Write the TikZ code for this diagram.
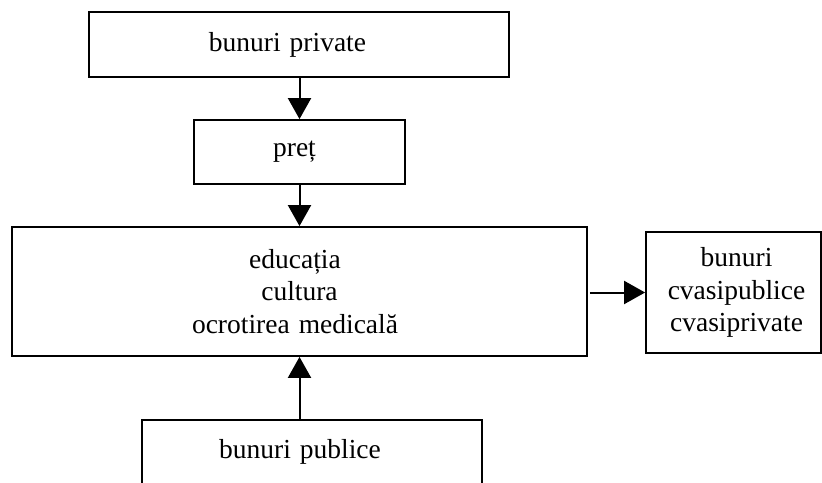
\documentclass[tikz,border=0pt]{standalone}
\usepackage{fontspec}
\setmainfont{Liberation Serif}
\usetikzlibrary{arrows.meta}
\newcommand{\myboxfont}{\fontsize{27.5}{32.5}\selectfont\spaceskip=9pt plus 2pt minus 1pt\relax}
\newcommand{\lsh}[1]{\hspace*{#1}}
\begin{document}
\begin{tikzpicture}[x=1pt,y=-1pt,
  box/.style={draw,line width=1.8pt,rectangle,inner sep=0pt,align=center,
    font=\myboxfont},
  conn/.style={line width=2pt,-{Triangle[length=21pt,width=23pt]}}]
\useasboundingbox (0,0) rectangle (822,482);
\clip (0,0) rectangle (822,482);
\node[box,minimum width=420pt,minimum height=65pt] (priv) at (299,44.5) {bunuri private\lsh{23pt}};
\node[box,minimum width=211pt,minimum height=64pt] (pret) at (299.5,152) {preț\lsh{10pt}};
\node[box,minimum width=575pt,minimum height=129pt] (edu) at (299.5,291.5) {educația\lsh{9pt}\\cultura\lsh{9pt}\\ocrotirea medicală\lsh{9pt}};
\node[box,minimum width=175pt,minimum height=121pt] (cvasi) at (733.5,292.5) {\lsh{6pt}bunuri\\\lsh{6pt}cvasipublice\\\lsh{6pt}cvasiprivate};
\node[box,minimum width=340pt,minimum height=64pt] (pub) at (312,452) {bunuri publice\lsh{24pt}};
\draw[conn] (priv.south -| pret.north) -- (pret.north);
\draw[conn] (pret.south) -- (edu.north -| pret.south);
\draw[conn] ([xshift=2pt]edu.east |- cvasi.west) -- (cvasi.west);
\draw[conn] (pub.north -| edu.south) -- (edu.south);
\end{tikzpicture}
\end{document}
